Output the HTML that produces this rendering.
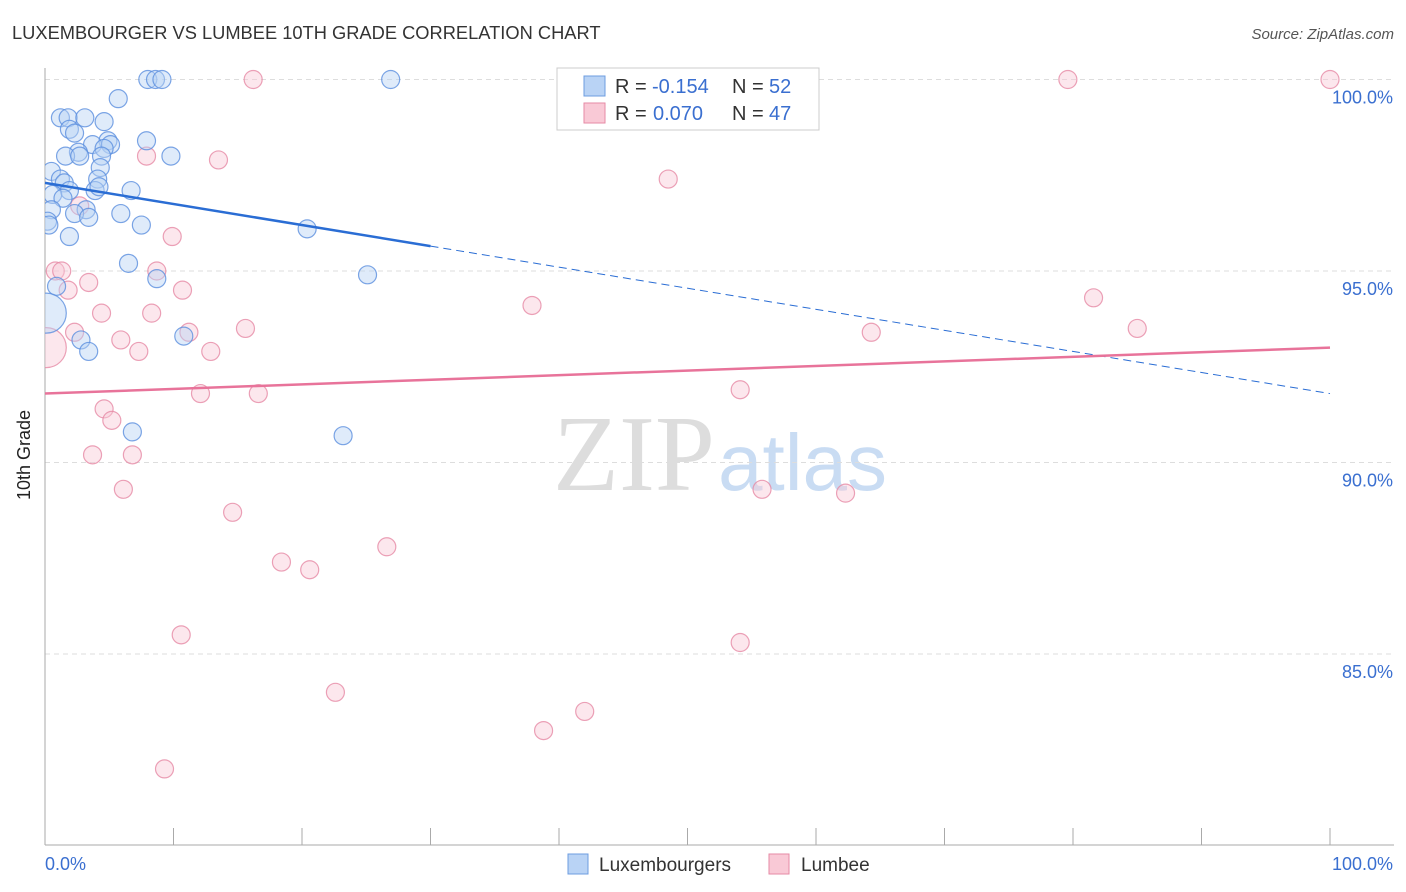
<!DOCTYPE html>
<html><head><meta charset="utf-8"><style>
body{margin:0;background:#fff;font-family:"Liberation Sans",sans-serif;}
svg{display:block}
</style></head><body>
<svg id="chart" width="1406" height="892">
<defs><clipPath id="plot"><rect x="45" y="60" width="1360" height="785"/></clipPath></defs>
<text x="12" y="39" font-size="18.3" fill="#333">LUXEMBOURGER VS LUMBEE 10TH GRADE CORRELATION CHART</text>
<text x="1394" y="39" font-size="15" fill="#555" font-style="italic" text-anchor="end">Source: ZipAtlas.com</text>
<text x="30" y="455" font-size="18" fill="#222" transform="rotate(-90 30 455)" text-anchor="middle">10th Grade</text>
<text x="553" y="490" font-size="108" fill="#ddd" font-family="Liberation Serif,serif">ZIP</text>
<text x="718" y="490" font-size="80" fill="#c9dcf3">atlas</text>
<g id="grid"></g><g id="marks" clip-path="url(#plot)"></g><g id="lines"></g>
<g>
<rect x="557" y="68" width="262" height="62" fill="#fff" stroke="#ccc"/>
<rect x="584" y="76" width="21" height="20" fill="#b9d3f5" stroke="#6d9de0"/>
<text x="615" y="93" font-size="20" fill="#333">R =</text>
<text x="652" y="93" font-size="20" fill="#3a6fd0">-0.154</text>
<text x="732" y="93" font-size="20" fill="#333">N =</text>
<text x="769" y="93" font-size="20" fill="#3a6fd0">52</text>
<rect x="584" y="103" width="21" height="20" fill="#f9c9d6" stroke="#e68aa5"/>
<text x="615" y="120" font-size="20" fill="#333">R =</text>
<text x="653" y="120" font-size="20" fill="#3a6fd0">0.070</text>
<text x="732" y="120" font-size="20" fill="#333">N =</text>
<text x="769" y="120" font-size="20" fill="#3a6fd0">47</text>
</g>
<g>
<rect x="568" y="854" width="20" height="20" fill="#b9d3f5" stroke="#6d9de0"/>
<text x="599" y="871" font-size="19" fill="#333">Luxembourgers</text>
<rect x="769" y="854" width="20" height="20" fill="#f9c9d6" stroke="#e68aa5"/>
<text x="801" y="871" font-size="19" fill="#333">Lumbee</text>
</g>
</svg>
<script>
const yTicks=[100,95,90,85];
const xTickLabels=["0.0%","100.0%"];
const blueX=[8,8.6,9.1,26.9,5.7,1.2,1.8,3.1,4.6,1.9,2.3,7.9,4.9,5.1,3.7,4.6,2.6,1.6,2.7,4.4,9.8,0.5,4.3,1.2,4.1,1.5,3.9,1.9,4.2,6.7,0.6,1.4,5.9,0.5,3.2,2.3,3.4,0.2,0.3,7.5,20.4,1.9,6.5,8.7,25.1,0.9,0.1,2.8,10.8,3.4,6.8,23.2];
const blueY=[100,100,100,100,99.5,99,99,99,98.9,98.7,98.6,98.4,98.4,98.3,98.3,98.2,98.1,98,98,98,98,97.6,97.7,97.4,97.4,97.3,97.1,97.1,97.2,97.1,97,96.9,96.5,96.6,96.6,96.5,96.4,96.3,96.2,96.2,96.1,95.9,95.2,94.8,94.9,94.6,93.9,93.2,93.3,92.9,90.8,90.7];
const blueBig=[46];
const pinkX=[16.2,79.6,100,7.9,13.5,48.5,9.9,0.8,1.3,8.7,3.4,1.8,10.7,81.6,37.9,4.4,8.3,15.6,11.2,2.3,64.3,85,5.9,7.3,12.9,0.1,54.1,12.1,16.6,4.6,5.2,3.7,6.8,6.1,55.8,62.3,14.6,26.6,18.4,20.6,10.6,54.1,22.6,42,38.8,9.3,2.7];
const pinkY=[100,100,100,98,97.9,97.4,95.9,95,95,95,94.7,94.5,94.5,94.3,94.1,93.9,93.9,93.5,93.4,93.4,93.4,93.5,93.2,92.9,92.9,93,91.9,91.8,91.8,91.4,91.1,90.2,90.2,89.3,89.3,89.2,88.7,87.8,87.4,87.2,85.5,85.3,84,83.5,83,82,96.7];
const pinkBig=[25];
const blueLine=[97.3,91.8], pinkLine=[91.8,93];
const X=v=>45+v*12.85, Y=v=>79.5+(100-v)*38.3;
const NS="http://www.w3.org/2000/svg";
function mk(t,a,p){const e=document.createElementNS(NS,t);for(const k in a)e.setAttribute(k,a[k]);p.appendChild(e);return e;}
const grid=document.getElementById('grid');
yTicks.forEach(t=>{
 const l=mk('line',{x1:45,x2:1394,y1:Y(t),y2:Y(t),stroke:'#ddd','stroke-dasharray':'5,4'},grid);
 
 
 const tx=mk('text',{x:1393,y:Y(t)+24,'font-size':18,fill:'#3a6fd0','text-anchor':'end'},grid);
 tx.textContent=t.toFixed(1)+'%';
 
 
});
const ax=mk('line',{x1:45,x2:45,y1:68,y2:845,stroke:'#aaa'},grid);


const bx=mk('line',{x1:45,x2:1394,y1:845,y2:845,stroke:'#aaa'},grid);


for(let i=0;i<=10;i++){const t=mk('line',{x1:X(i*10),x2:X(i*10),y1:828,y2:845,stroke:'#aaa'},grid);
 
 }
[[0,'start',45],[1,'end',1393]].forEach(([i,a,x])=>{const t=mk('text',{x:x,y:870,'font-size':18,fill:'#3a6fd0','text-anchor':a},grid);t.textContent=xTickLabels[i];
 
 });
const marks=document.getElementById('marks');
function pts(xs,ys,big,fill,stroke,name){xs.forEach((v,i)=>{const c=mk('circle',{cx:X(v),cy:Y(ys[i]),r:big.includes(i)?20:9,fill:fill,'fill-opacity':0.45,stroke:stroke,'stroke-opacity':0.8,'stroke-width':1.2},marks);
 
 });}
pts(pinkX,pinkY,pinkBig,'#f9c9d6','#e68aa5','lumbee-point');
pts(blueX,blueY,blueBig,'#b9d3f5','#5b8ede','luxembourger-point');
const lines=document.getElementById('lines');
const bm=v=>blueLine[0]+(blueLine[1]-blueLine[0])*v/100;
const l1=mk('line',{x1:X(0),y1:Y(bm(0)),x2:X(30),y2:Y(bm(30)),stroke:'#2a6dd4','stroke-width':2.5},lines);


const l2=mk('line',{x1:X(30),y1:Y(bm(30)),x2:X(100),y2:Y(bm(100)),stroke:'#2a6dd4','stroke-width':1,'stroke-dasharray':'8,5'},lines);


const l3=mk('line',{x1:X(0),y1:Y(pinkLine[0]),x2:X(100),y2:Y(pinkLine[1]),stroke:'#e8739a','stroke-width':2.5},lines);


</script>
</body></html>
